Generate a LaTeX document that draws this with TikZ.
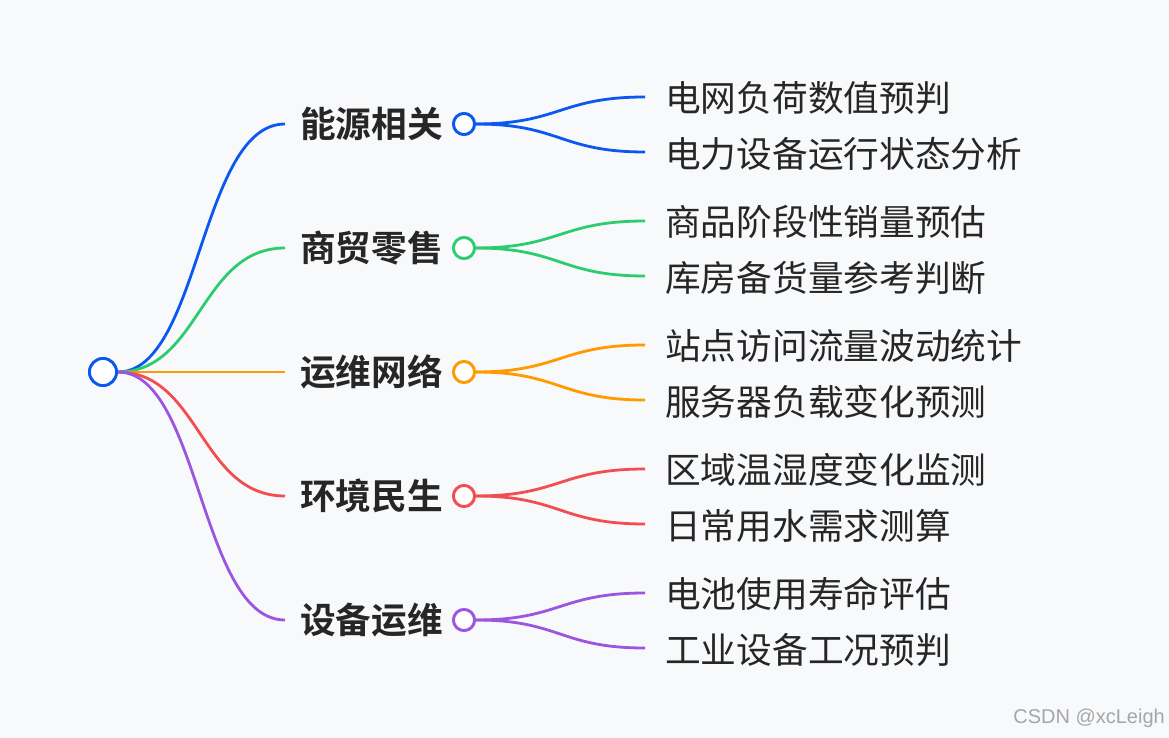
\documentclass[tikz,border=0pt]{standalone}
\usepackage{fontspec}
\newfontfamily\cjk[BoldFont={Noto Sans CJK SC Bold}]{Noto Sans CJK SC}
\setmainfont{Liberation Sans}
\definecolor{bg}{HTML}{F8F9FB}
\definecolor{cA}{HTML}{0A58F0}
\definecolor{cB}{HTML}{2ECC71}
\definecolor{cC}{HTML}{FF9A00}
\definecolor{cD}{HTML}{F24E50}
\definecolor{cE}{HTML}{9B55E0}
\begin{document}
\begin{tikzpicture}[x=1pt,y=-1pt,
  dot/.style={circle,draw=#1,line width=2.8pt,fill=white,minimum size=21pt,inner sep=0pt},
  br/.style={font=\cjk\bfseries\fontsize{35.7}{38}\selectfont,text=black!85,anchor=east,inner sep=0pt},
  lf/.style={font=\cjk\fontsize{35.7}{38}\selectfont,text=black!85,anchor=west,inner sep=0pt},
  ln/.style={draw=#1,line width=2.8pt}]
\fill[bg] (0,0) rectangle (1169,738);
\node[dot=cA,minimum size=27pt] (root) at (103,372) {};
\foreach \i/\c/\t/\la/\lb in {0/cA/能源相关/电网负荷数值预判/电力设备运行状态分析,
  1/cB/商贸零售/商品阶段性销量预估/库房备货量参考判断,
  2/cC/运维网络/站点访问流量波动统计/服务器负载变化预测,
  3/cD/环境民生/区域温湿度变化监测/日常用水需求测算,
  4/cE/设备运维/电池使用寿命评估/工业设备工况预判}{
  \pgfmathsetmacro\y{124+124*\i}
  \coordinate (s\i) at (285,\y);
  \coordinate (u\i) at (645,\y-27);
  \coordinate (d\i) at (645,\y+28);
  \draw[ln=\c] (root.east) .. controls (200,372) and (200,\y) .. (s\i);
  \node[br] (b\i) at (443,\y) {\t};
  \node[dot=\c] (c\i) at (464,\y) {};
  \draw[ln=\c] (c\i.east) .. controls (560,\y) and (560,\y-27) .. (u\i);
  \draw[ln=\c] (c\i.east) .. controls (560,\y) and (560,\y+28) .. (d\i);
  \node[lf] (l\i) at (665,\y-26) {\la};
  \node[lf] (m\i) at (665,\y+30) {\lb};
  \node[dot=\c] at (c\i) {};
}
\node[dot=cA,minimum size=27pt] at (root) {};
\node[font=\fontsize{20}{22}\selectfont,text=black!35,anchor=east,inner sep=0pt] (wm) at (1165,718) {CSDN @xcLeigh};
\end{tikzpicture}
\end{document}
